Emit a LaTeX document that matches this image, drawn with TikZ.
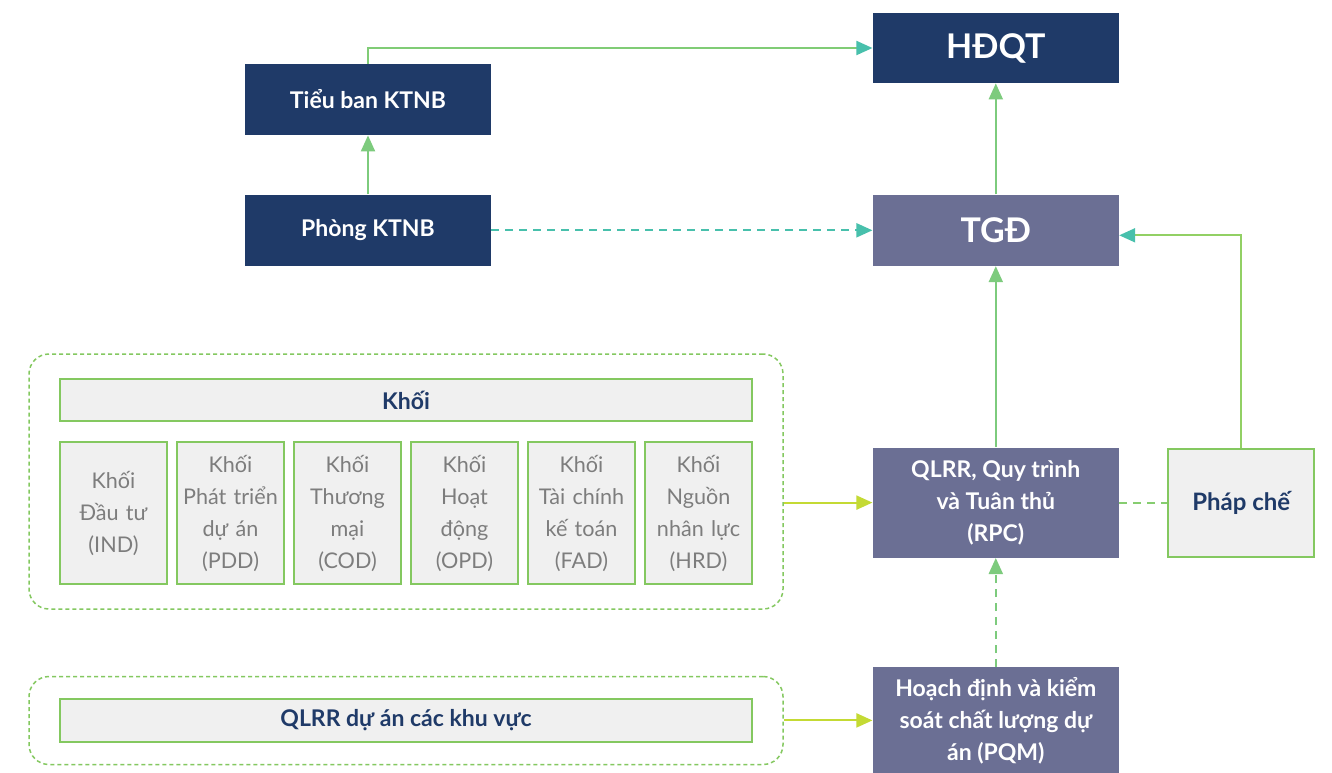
\documentclass[tikz,border=0pt]{standalone}
\usepackage{fontspec}
\setmainfont{Lato}
\usetikzlibrary{arrows.meta,positioning,fit}
\definecolor{boardnavy}{RGB}{31,58,104}
\definecolor{slateblue}{RGB}{107,111,148}
\definecolor{panelgray}{RGB}{240,240,240}
\definecolor{framegreen}{RGB}{132,200,96}
\definecolor{limegreen}{RGB}{196,218,52}
\definecolor{tealgreen}{RGB}{72,192,172}
\definecolor{softgreen}{RGB}{125,203,125}
\definecolor{textgray}{RGB}{125,125,125}

\begin{document}
\begin{tikzpicture}[
    node distance=20pt,
    navybox/.style={rectangle, fill=boardnavy, text=white, align=center, inner sep=2pt, minimum width=123pt, minimum height=35.5pt, font=\bfseries\fontsize{11.5}{16}\selectfont},
    slatebox/.style={navybox, fill=slateblue},
    topbox/.style={font=\bfseries\fontsize{17}{20}\selectfont},
    panel/.style={rectangle, draw=framegreen, line width=1pt, fill=panelgray, align=center, inner sep=1pt, text=boardnavy, font=\bfseries\fontsize{11.5}{16}\selectfont},
    unitbox/.style={panel, text width=52pt, inner sep=0.75pt, minimum height=71pt, text=textgray, font=\fontsize{10.8}{16}\selectfont},
    groupframe/.style={rectangle, draw=framegreen, line width=0.75pt, dash pattern=on 2pt off 1.5pt, rounded corners=10pt},
    arrow/.style={-{Triangle[length=8pt,width=7pt]}, line width=1pt},
    link/.style={line width=1pt, dash pattern=on 4pt off 3pt}
]
    \useasboundingbox[fill=white] (0,0) rectangle (666pt,-386pt);

    % Audit line
    \node[navybox] (tieuban) at (184pt,-49.75pt) {Tiểu ban KTNB};
    \node[navybox, below=29.5pt of tieuban] (phong) {Phòng KTNB};

    % Management line
    \node[slatebox, topbox, right=190.5pt of phong] (tgd) {TGĐ};
    \node[navybox, topbox, above=55.5pt of tgd, minimum height=35pt] (hdqt) {HĐQT};
    \node[slatebox, below=90.5pt of tgd, minimum height=55pt] (rpc) {QLRR, Quy trình\\và Tuân thủ\\(RPC)};
    \node[panel, right=24pt of rpc, minimum width=73pt, minimum height=54pt, font=\bfseries\fontsize{12}{16}\selectfont] (phapche) {Pháp chế};
    \node[slatebox, below=54.5pt of rpc, minimum height=53pt] (pqm) {Hoạch định và kiểm\\soát chất lượng dự\\án (PQM)};

    % Blocks
    \node[panel, minimum width=346pt, minimum height=21pt] (header) at (203pt,-200pt) {Khối};
    \node[unitbox, below right=9.5pt and 0pt of header.south west] (ind) {Khối\\Đầu tư\\(IND)};
    \node[unitbox, right=4pt of ind] (pdd) {Khối\\Phát triển\\dự án\\(PDD)};
    \node[unitbox, right=4pt of pdd] (cod) {Khối\\Thương\\mại\\(COD)};
    \node[unitbox, right=4pt of cod] (opd) {Khối\\Hoạt\\động\\(OPD)};
    \node[unitbox, right=4pt of opd] (fad) {Khối\\Tài chính\\kế toán\\(FAD)};
    \node[unitbox, right=4pt of fad] (hrd) {Khối\\Nguồn\\nhân lực\\(HRD)};
    \node[groupframe, fit=(header)(ind)(hrd), inner xsep=15pt, inner ysep=12pt] (blk1) {};

    % Regional projects
    \node[panel, below=138pt of header, minimum width=346pt, minimum height=21.5pt] (qlrrkv) {QLRR dự án các khu vực};
    \node[groupframe, fit=(qlrrkv), inner xsep=15pt, inner ysep=10.75pt] (blk2) {};

    % Arrows
    \draw[arrow, draw=limegreen!45!tealgreen, -{Triangle[length=8pt,width=7pt,color=tealgreen]}] (tieuban.north) |- (hdqt.west);
    \draw[arrow, draw=softgreen] (phong.north) -- (tieuban.south);
    \draw[arrow, link, draw=tealgreen] (phong.east) -- (phong.east -| tgd.west);
    \draw[arrow, draw=softgreen] (tgd.north) -- (hdqt.south);
    \draw[arrow, draw=softgreen] (rpc.north) -- (tgd.south);
    \draw[arrow, draw=limegreen!60!tealgreen, -{Triangle[length=8pt,width=7pt,color=tealgreen]}] (phapche.north) |- ([yshift=-2.5pt]tgd.east);
    \draw[link, draw=tealgreen!50!limegreen] (rpc.east) -- (phapche.west);
    \draw[arrow, link, draw=softgreen] (pqm.north) -- (rpc.south);
    \draw[arrow, draw=limegreen] (blk1.east |- rpc) -- (rpc.west);
    \draw[arrow, draw=limegreen] (blk2.east |- pqm) -- (pqm.west);

\end{tikzpicture}
\end{document}
